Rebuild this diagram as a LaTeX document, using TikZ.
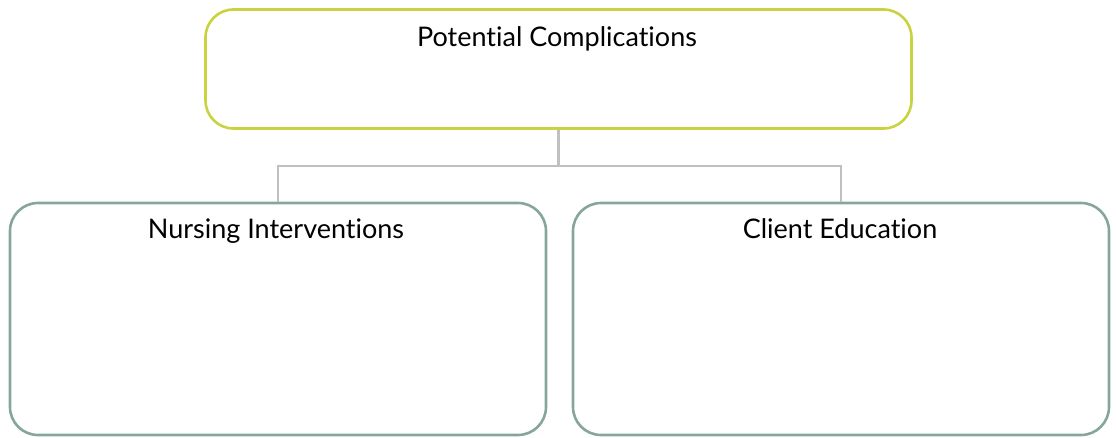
\documentclass[tikz,border=0pt]{standalone}
\usepackage{fontspec}
\setmainfont[Ligatures={NoCommon}]{Lato}
\usepackage{tikz}
\usetikzlibrary{positioning, calc}
\definecolor{compgreen}{RGB}{201,211,64}
\definecolor{boxsage}{RGB}{133,166,152}
\definecolor{linkgray}{RGB}{192,192,192}

\begin{document}
\begin{tikzpicture}[x=1pt, y=1pt, font=\fontsize{27}{32}\selectfont,
  topbox/.style={draw=compgreen, line width=2.6pt, rounded corners=28pt, minimum width=706pt, minimum height=119pt},
  lowbox/.style={draw=boxsage, line width=2.6pt, rounded corners=28pt, minimum width=536pt, minimum height=232pt},
  link/.style={linkgray, line width=2.4pt}]
  \useasboundingbox (0,0) rectangle (1116,-438);
  % Potential complications -- top
  \node[topbox] (pc) at (558.5,-69) {};
  \node[anchor=base] (pctext) at (557,-47) {Potential Complications};
  % Nursing interventions -- left
  \node[lowbox] (ni) at (278,-319) {};
  \node[anchor=base] (nitext) at (276,-239) {Nursing Interventions};
  % Client education -- right
  \node[lowbox] (ce) at (841,-319) {};
  \node[anchor=base] (cetext) at (840,-239) {Client Education};
  % Connecting lines
  \draw[link] (pc.south) -- ++(0,-36) -| (ni.north);
  \draw[link] (pc.south) -- ++(0,-36) -| (ce.north);
\end{tikzpicture}
\end{document}
